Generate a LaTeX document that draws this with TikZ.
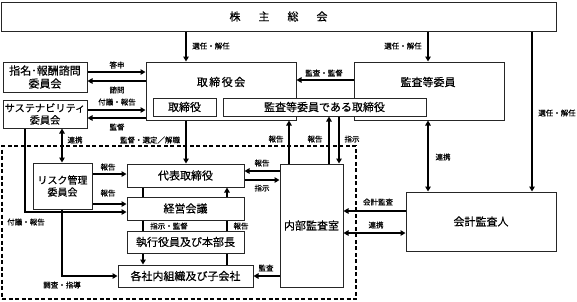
\documentclass[tikz,border=0pt]{standalone}
\usepackage{fontspec}
\setmainfont{Noto Sans CJK JP}[FakeBold=0.35]
\usetikzlibrary{arrows.meta}
\begin{document}
\begin{tikzpicture}[x=1pt,y=-1pt,
  box/.style={draw=black!85,line width=1pt,rectangle,inner sep=0pt,fill=white,
    font=\fontsize{11}{13}\selectfont,align=center},
  txt/.style={inner sep=0pt,font=\fontsize{11}{13}\selectfont},
  lbl/.style={font=\fontsize{7.5}{8}\selectfont,inner sep=0pt},
  arr/.style={line width=1.7pt,-{Triangle[length=5pt,width=5.5pt]}},
  darr/.style={line width=1.7pt,{Triangle[length=5pt,width=5.5pt]}-{Triangle[length=5pt,width=5.5pt]}},
  ln/.style={line width=1.7pt},
  grpbox/.style={draw=black,line width=1.2pt,dash pattern=on 4pt off 2.5pt,rectangle,inner sep=0pt}
]
\useasboundingbox (0,0) rectangle (577,301);
% guide coordinates
\coordinate (xA) at (186,0);
\coordinate (xB) at (428,0);
\coordinate (xC) at (532,0);
\coordinate (xD) at (289,0);
\coordinate (xE) at (329,0);
\coordinate (xF) at (339,0);
\coordinate (xG) at (143,0);
\coordinate (xH) at (227,0);
\coordinate (xI) at (25,0);
\coordinate (xJ) at (62,0);
\coordinate (y72) at (0,72);
\coordinate (y80) at (0,80);
\coordinate (y81) at (0,81);
\coordinate (y110) at (0,110);
\coordinate (y118) at (0,118);
\coordinate (y171) at (0,171);
\coordinate (y174) at (0,174);
\coordinate (y180) at (0,180);
\coordinate (y204) at (0,204);
\coordinate (y211) at (0,211);
\coordinate (y212) at (0,212);
\coordinate (y233) at (0,233);
\coordinate (y276) at (0,276);

% dashed group
\node[grpbox,minimum width=354pt,minimum height=153pt] (grp) at (179,222.5) {};

% boxes
\node[box,minimum width=555pt,minimum height=29pt] (sh) at (278.5,16.5)
  {株\hspace{18pt}主\hspace{18pt}総\hspace{18pt}会};
\node[box,minimum width=84pt,minimum height=30pt] (sm) at (45,77) {指名･報酬諮問\\委員会};
\node[box,minimum width=84pt,minimum height=28pt,font=\fontsize{10.2}{12}\selectfont] (ss) at (45,114) {サステナビリティ\\委員会};
\node[box,minimum width=150pt,minimum height=58pt] (tb) at (221,91) {};
\node[txt] (tbl) at (221,82) {取\kern1.5pt 締\kern1.5pt 役\kern1.5pt 会};
\node[box,minimum width=150pt,minimum height=58pt] (ai) at (429,91) {};
\node[txt] (ail) at (428,82) {監査等委員};
\node[box,minimum width=63pt,minimum height=18pt] (tr) at (184.5,107) {取締役};
\node[box,minimum width=203pt,minimum height=18pt] (ak) at (324.5,107) {監査等委員である取締役};
\node[box,minimum width=59pt,minimum height=46pt,font=\fontsize{10}{12}\selectfont] (rk) at (62.5,186) {リスク管理\\委員会};
\node[box,minimum width=117pt,minimum height=23pt] (dh) at (185.5,175.5) {代表取締役};
\node[box,minimum width=117pt,minimum height=23pt] (kg) at (185.5,208.5) {経営会議};
\node[box,minimum width=117pt,minimum height=22pt] (sy) at (185.5,242) {執行役員及び本部長};
\node[box,minimum width=135pt,minimum height=22pt] (kk) at (185.5,276) {各社内組織及び子会社};
\node[box,minimum width=63pt,minimum height=123pt] (nb) at (311.5,225.5) {内部監査室};
\node[box,minimum width=150pt,minimum height=59pt] (ka) at (481,221.5) {会計監査人};

% connectors
\draw[arr] (sh.south -| xA) -- (tb.north -| xA);
\draw[arr] (sh.south -| xB) -- (ai.north -| xB);
\draw[arr] (sh.south -| xC) -- (ka.north -| xC);
\draw[arr] (ai.west |- y80) -- (tb.east |- y80);
\draw[arr] (sm.east |- y72) -- (tb.west |- y72);
\draw[arr] (tb.west |- y81) -- (sm.east |- y81);
\draw[arr] (ss.east |- y110) -- (tb.west |- y110);
\draw[arr] (tb.west |- y118) -- (ss.east |- y118);
\draw[arr] (tb.south -| xA) -- (dh.north -| xA);
\draw[arr] (nb.north -| xD) -- (tb.south -| xD);
\draw[arr] (nb.north -| xE) -- (ak.south -| xE);
\draw[arr] (ak.south -| xF) -- (nb.north -| xF);
\draw[darr] (ai.south -| xB) -- (ka.north -| xB);
\draw[arr] (ka.west |- y211) -- (nb.east |- y211);
\draw[darr] (ka.west |- y233) -- (nb.east |- y233);
\draw[arr] (nb.west |- y171) -- (dh.east |- y171);
\draw[arr] (dh.east |- y180) -- (nb.west |- y180);
\draw[arr] (nb.west |- y276) -- (kk.east |- y276);
\draw[ln] (dh.south -| xG) -- (kg.north -| xG);
\draw[arr] (kg.north -| xH) -- (dh.south -| xH);
\draw[ln] (kg.south -| xG) -- (sy.north -| xG);
\draw[ln] (kg.south -| xH) -- (sy.north -| xH);
\draw[arr] (sy.south -| xG) -- (kk.north -| xG);
\draw[ln] (kk.north -| xH) -- (sy.south -| xH);
\draw[darr] (ss.south -| xJ) -- (rk.north -| xJ);
\draw[arr] (rk.east |- y174) -- (dh.west |- y174);
\draw[arr] (rk.east |- y204) -- (kg.west |- y204);
\draw[arr] (ss.south -| xI) |- (kg.west |- y212);
\draw[arr] (rk.south -| xJ) |- (kk.west |- y276);

% labels
\node[lbl] (l1) at (211,46) {選任・解任};
\node[lbl] (l2) at (403,46) {選任・解任};
\node[lbl] (l3) at (557,113) {選任・解任};
\node[lbl] (l4) at (324,73) {監査・監督};
\node[lbl] (l5) at (117,65) {答申};
\node[lbl] (l6) at (117,90) {諮問};
\node[lbl] (l7) at (117,102) {付議・報告};
\node[lbl] (l8) at (117,127) {監督};
\node[lbl] (l9) at (75,140) {連携};
\node[lbl] (l10) at (150,140) {監督・選定／解職};
\node[lbl] (l11) at (276,139) {報告};
\node[lbl] (l12) at (315,139) {報告};
\node[lbl] (l13) at (352,139) {指示};
\node[lbl] (l14) at (443,157) {連携};
\node[lbl] (l15) at (108,167) {報告};
\node[lbl] (l16) at (108,193) {報告};
\node[lbl] (l17) at (26,222) {付議・報告};
\node[lbl] (l18) at (62,285) {調査・指導};
\node[lbl] (l19) at (262,163) {報告};
\node[lbl] (l20) at (262,188) {指示};
\node[lbl] (l21) at (169,226) {指示・監督};
\node[lbl] (l22) at (241,226) {報告};
\node[lbl] (l23) at (266,268) {監査};
\node[lbl] (l24) at (378,202) {会計監査};
\node[lbl] (l25) at (376,225) {連携};
\end{tikzpicture}
\end{document}
